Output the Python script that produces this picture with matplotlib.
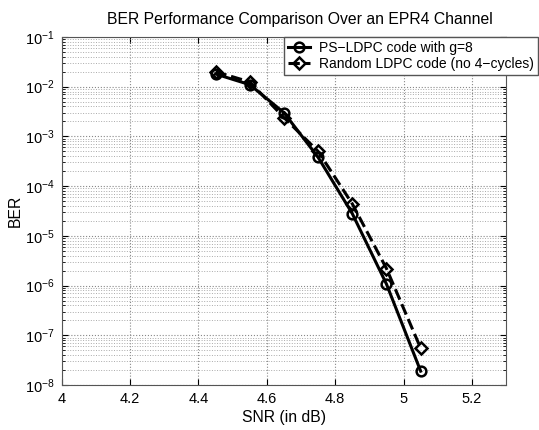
import matplotlib.pyplot as plt
import numpy as np
from matplotlib.ticker import LogLocator, NullFormatter

plt.rcParams['font.family'] = ['Liberation Sans', 'DejaVu Sans']
plt.rcParams['mathtext.fontset'] = 'custom'
plt.rcParams['mathtext.rm'] = 'Liberation Sans'
plt.rcParams['mathtext.it'] = 'Liberation Sans:italic'
plt.rcParams['mathtext.bf'] = 'Liberation Sans:bold'

snr = [4.45, 4.55, 4.65, 4.75, 4.85, 4.95, 5.05]
ber_ps = [1.8e-2, 1.1e-2, 3.0e-3, 3.8e-4, 2.8e-5, 1.07e-6, 1.9e-8]     # PS-LDPC g=8
ber_rand = [2.0e-2, 1.25e-2, 2.4e-3, 5.0e-4, 4.4e-5, 2.2e-6, 5.5e-8]   # random LDPC

xticks = [4, 4.2, 4.4, 4.6, 4.8, 5, 5.2]
xtick_labels = ['4', '4.2', '4.4', '4.6', '4.8', '5', '5.2']


fig = plt.figure(figsize=(5.39, 4.30), dpi=100)
ax = fig.add_axes([0.1145, 0.1047, 0.8245, 0.8093])

ax.semilogy(snr, ber_ps, '-', color='black', lw=2.2, marker='o', ms=7,
            mfc='none', mew=1.8, label='PS\u2212LDPC code with g=8')
ax.semilogy(snr, ber_rand, '--', color='black', lw=2.2, marker='D', ms=6,
            mfc='none', mew=1.8, label='Random LDPC code (no 4\u2212cycles)')

ax.set_xlim(4, 5.3)
ax.set_ylim(1e-8, 1e-1)
ax.set_xticks(xticks)
ax.set_xticklabels(xtick_labels)
ax.yaxis.set_major_locator(LogLocator(base=10, numticks=20))
ax.yaxis.set_minor_locator(LogLocator(base=10, subs=np.arange(2, 10), numticks=20))
ax.yaxis.set_minor_formatter(NullFormatter())

ax.grid(True, which='major', ls=':', color='#888888', lw=0.8)
ax.grid(True, which='minor', axis='y', ls=':', color='#aaaaaa', lw=0.7)
ax.tick_params(which='both', direction='in', top=True, right=True, labelsize=10.5)
ax.tick_params(which='major', length=4, pad=5)
ax.tick_params(which='minor', length=2)
for s in ax.spines.values():
    s.set_color('#555555')

ax.set_title('BER Performance Comparison Over an EPR4 Channel', fontsize=11.3,
             pad=9, x=0.537)
ax.set_xlabel('SNR (in dB)', fontsize=11.3, labelpad=3)
ax.set_ylabel('BER', fontsize=11.3)
ax.yaxis.set_label_coords(-0.087, 0.5)

# legend sticks out past the right edge of the axes, like the original
leg = ax.legend(loc='upper right', fontsize=10, fancybox=False, framealpha=1,
                edgecolor='#555555', handlelength=1.6, handletextpad=0.65,
                borderpad=0.3, labelspacing=0.15,
                bbox_to_anchor=(538 / 539, 393 / 430),
                bbox_transform=fig.transFigure, borderaxespad=0)

fig.savefig('out.png', dpi=100)
